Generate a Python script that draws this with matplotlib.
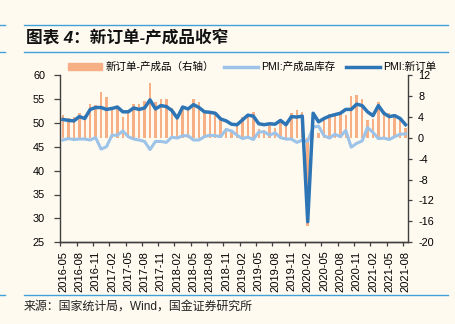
import matplotlib
matplotlib.use("Agg")
import matplotlib.pyplot as plt
from matplotlib.lines import Line2D
from matplotlib.ticker import FixedLocator, FuncFormatter

plt.rcParams['font.family'] = ['Liberation Sans', 'Noto Sans CJK SC', 'DejaVu Sans']

months = []
for y in range(2016, 2022):
    for m in range(1, 13):
        if (y == 2016 and m < 5) or (y == 2021 and m > 8):
            continue
        months.append(f"{y}-{m:02d}")

new_orders = [50.7, 50.5, 50.4, 51.3, 50.9, 52.8, 53.2, 53.2,
              52.8, 53.0, 53.3, 52.3, 52.3, 53.1, 52.8, 53.1, 54.8, 52.9, 53.6, 53.4,
              52.6, 51.0, 53.3, 52.9, 53.8, 53.2, 52.3, 52.2, 52.0, 50.8, 50.4, 49.7,
              49.6, 50.6, 51.6, 51.4, 49.8, 49.6, 49.8, 49.7, 50.5, 49.6, 51.3, 51.2,
              51.4, 29.3, 52.0, 50.2, 50.9, 51.4, 51.7, 52.0, 52.8, 52.8, 53.9, 53.6,
              52.3, 51.5, 53.6, 52.0, 51.3, 51.5, 50.9, 49.6]

inventory = [46.4, 46.7, 46.5, 46.6, 46.6, 46.4, 46.9, 44.5,
             45.0, 47.4, 47.4, 48.3, 47.1, 46.6, 46.4, 46.1, 44.4, 46.1, 46.1, 45.9,
             47.0, 46.8, 47.3, 47.3, 46.4, 46.4, 47.1, 47.4, 47.3, 47.1, 48.6, 48.3,
             47.4, 46.7, 47.0, 46.5, 48.1, 48.1, 47.4, 47.9, 46.9, 46.6, 46.6, 45.9,
             46.4, 46.1, 49.1, 49.3, 47.3, 46.8, 47.6, 47.1, 48.4, 44.9, 45.7, 46.2,
             49.0, 48.0, 46.7, 46.8, 46.5, 47.1, 47.6, 47.7]

spread = [4.3, 3.8, 3.9, 4.7, 4.3, 6.4, 6.3, 8.7,
          7.8, 5.6, 5.9, 4.0, 5.2, 6.5, 6.4, 7.0, 10.4, 6.8, 7.5, 7.5,
          5.6, 4.2, 6.0, 5.6, 7.4, 6.8, 5.2, 4.8, 4.7, 3.7, 1.8, 1.4,
          2.2, 3.9, 4.6, 4.9, 1.7, 1.5, 2.4, 1.8, 3.6, 3.0, 4.7, 5.3,
          5.0, -16.8, 2.9, 0.9, 3.6, 4.6, 4.1, 4.9, 4.4, 7.9, 8.2, 7.4,
          3.3, 3.5, 6.9, 5.2, 4.8, 4.4, 3.3, 1.9]

left_ticks = [25, 30, 35, 40, 45, 50, 55, 60]
right_ticks = [-20, -16, -12, -8, -4, 0, 4, 8, 12]

bg = '#FEFAF0'
c_bar = '#F7AF85'
c_light = '#9DC3E8'
c_dark = '#2E75B6'
c_spine = '#404040'

W, H = 456, 324
fig = plt.figure(figsize=(W / 100, H / 100), dpi=100, facecolor=bg)
ax1 = fig.add_axes([60.3 / W, 1 - 242.3 / H, 348 / W, 167.3 / H])
ax2 = ax1.twinx()
ax2.set_facecolor(bg)
ax1.set_zorder(ax2.get_zorder() + 1)
ax1.patch.set_visible(False)

x = list(range(len(months)))
ax2.bar(x, spread, width=0.45, color=c_bar, linewidth=0)
ax1.plot(x, inventory, color=c_light, lw=2.2, solid_joinstyle='round')
ax1.plot(x, new_orders, color=c_dark, lw=2.5, solid_joinstyle='round')

ax1.set_xlim(-0.5, len(months) - 0.5)
ax1.set_ylim(25, 60)
ax2.set_ylim(-20, 12)
ax1.set_yticks(left_ticks)
ax2.set_yticks(right_ticks)
ax2.yaxis.set_major_formatter(FuncFormatter(lambda v, p: f"{int(v)}"))

lab_idx = list(range(0, len(months), 3))
ax1.set_xticks(lab_idx)
ax1.set_xticklabels([months[i] for i in lab_idx], rotation=90, fontsize=8)
ax1.tick_params(axis='x', length=0, pad=6)
ax1.xaxis.set_minor_locator(FixedLocator([i - 0.5 for i in lab_idx]))
ax1.tick_params(axis='x', which='minor', length=3, direction='out', color=c_spine, width=0.9)
ax1.tick_params(axis='y', labelsize=7.8, length=4, pad=7, color=c_spine, width=0.9)
ax2.tick_params(axis='y', labelsize=7.8, length=3, pad=4, color=c_spine, width=0.9)

for ax in (ax1, ax2):
    ax.spines['top'].set_visible(False)
    for s in ('left', 'right', 'bottom'):
        ax.spines[s].set_color(c_spine)
        ax.spines[s].set_linewidth(1.0)
ax2.spines['left'].set_visible(False)
ax1.spines['right'].set_visible(False)

handles = [plt.Rectangle((0, 0), 1, 1, color=c_bar),
           Line2D([], [], color=c_light, lw=2.5),
           Line2D([], [], color=c_dark, lw=2.5)]
labels = ['新订单-产成品（右轴）', 'PMI:产成品库存', 'PMI:新订单']
fig.legend(handles, labels, loc='center', bbox_to_anchor=(252 / W, 1 - 67 / H), ncol=3,
           frameon=False, fontsize=7.6, handlelength=3.2, handleheight=0.6,
           columnspacing=1.0, handletextpad=0.3, borderaxespad=0)

line_kw = dict(color='#3FA0DA', lw=1.0, transform=fig.transFigure)
for yy in (25, 51.5, 295):
    fig.add_artist(Line2D([24 / W, 448 / W], [1 - yy / H, 1 - yy / H], **line_kw))
    fig.add_artist(Line2D([0, 5 / W], [1 - yy / H, 1 - yy / H], **line_kw))

fig.text(26 / W, 1 - 38 / H, '图表 4：新订单-产成品收窄', fontsize=12, fontweight='bold',
         style='italic', va='center', ha='left', color='#111111')
fig.text(24 / W, 1 - 307 / H, '来源：国家统计局，Wind，国金证券研究所', fontsize=8.6,
         va='center', ha='left', color='#222222')

fig.savefig('out.png', dpi=100, facecolor=bg)
